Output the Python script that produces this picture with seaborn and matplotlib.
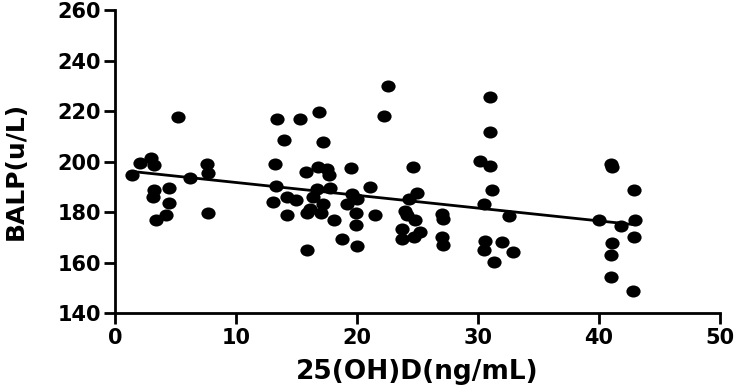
import numpy as np
import pandas as pd
import seaborn as sns
import matplotlib.pyplot as plt
from matplotlib.path import Path
from matplotlib.transforms import Affine2D

# values
vitd = [1.4, 2.1, 3.0, 3.2, 3.2, 3.1, 4.5, 4.5, 4.2, 3.4, 5.2, 6.2, 7.6, 7.7, 7.7,
        22.6, 22.2, 13.4, 15.3, 16.9, 14.0, 17.2, 13.2, 15.8, 16.8, 17.5, 17.7, 19.5,
        13.3, 21.1, 16.7, 17.8, 19.6, 13.1, 14.2, 15.0, 16.4, 17.2, 16.1, 19.2, 20.0,
        14.2, 15.9, 17.0, 18.1, 19.9, 21.5, 19.9, 18.8, 20.0, 15.9,
        31.0, 31.0, 30.2, 31.0, 31.2, 30.5, 32.6, 24.6, 25.0, 24.3, 24.0, 24.1, 24.8,
        23.7, 25.2, 23.7, 24.7, 27.0, 27.1, 27.0, 27.1, 30.6, 30.5, 32.0, 32.9, 31.3,
        41.0, 41.1, 42.9, 40.0, 41.8, 43.0, 42.9, 41.1, 41.0, 41.0, 42.8]
balp = [194.5, 199.3, 201.6, 198.5, 188.6, 186.0, 189.7, 183.6, 179.0, 176.7, 217.7, 193.5, 198.9, 195.5, 179.7,
        229.9, 218.1, 216.8, 216.7, 219.7, 208.5, 207.8, 198.9, 195.9, 197.9, 197.2, 194.5, 197.6,
        190.2, 189.9, 189.3, 189.5, 187.3, 184.0, 186.0, 184.6, 186.0, 183.3, 181.3, 183.3, 185.3,
        178.9, 179.7, 179.7, 176.7, 179.7, 178.9, 174.7, 169.4, 166.5, 164.8,
        225.7, 211.8, 200.3, 198.3, 188.9, 183.3, 178.4, 197.7, 187.7, 185.0, 180.6, 178.7, 176.7,
        173.4, 172.0, 169.4, 170.0, 179.3, 177.3, 170.3, 167.1, 168.7, 164.8, 168.3, 164.4, 160.4,
        199.2, 198.0, 188.9, 176.9, 174.4, 176.7, 170.1, 167.7, 163.0, 154.4, 148.6]
x_ticks = [0, 10, 20, 30, 40, 50]
y_ticks = [140, 160, 180, 200, 220, 240, 260]

df = pd.DataFrame({'vitd': vitd, 'balp': balp})

sns.set_style('ticks', {'text.color': 'black', 'axes.labelcolor': 'black',
                        'xtick.color': 'black', 'ytick.color': 'black',
                        'axes.edgecolor': 'black'})
plt.rcParams['font.family'] = ['DejaVu Sans']

# slightly wide ellipse marker like the original
ellipse = Affine2D().scale(1.18, 1.0).transform_path(Path.unit_circle())

fig = plt.figure(figsize=(7.34, 3.88), dpi=100)
ax = fig.add_axes([0.1567, 0.193, 0.824, 0.781])

sns.regplot(data=df, x='vitd', y='balp', ax=ax, ci=None, truncate=True,
            marker=ellipse,
            scatter_kws={'s': 105, 'color': 'black', 'linewidths': 0, 'alpha': 1},
            line_kws={'color': 'black', 'linewidth': 2})

ax.set_xlim(0, 50)
ax.set_ylim(140, 260)
ax.set_xticks(x_ticks)
ax.set_yticks(y_ticks)
ax.set_xlabel('25(OH)D(ng/mL)', fontsize=19, fontweight='bold', color='black')
ax.set_ylabel('BALP(u/L)', fontsize=18, fontweight='bold', color='black')
ax.xaxis.set_label_coords(0.5, -0.15)
ax.yaxis.set_label_coords(-0.145, 0.47)
ax.tick_params(axis='both', labelsize=15, width=2, length=8, direction='out',
               colors='black')
ax.tick_params(axis='x', pad=3)
ax.tick_params(axis='y', pad=2)
for lab in ax.get_xticklabels() + ax.get_yticklabels():
    lab.set_fontweight('bold')

sns.despine(ax=ax)
for side in ['left', 'bottom']:
    ax.spines[side].set_linewidth(2)
    ax.spines[side].set_color('black')
ax.patch.set_alpha(0)

fig.savefig('out.png', dpi=100, facecolor='white')
